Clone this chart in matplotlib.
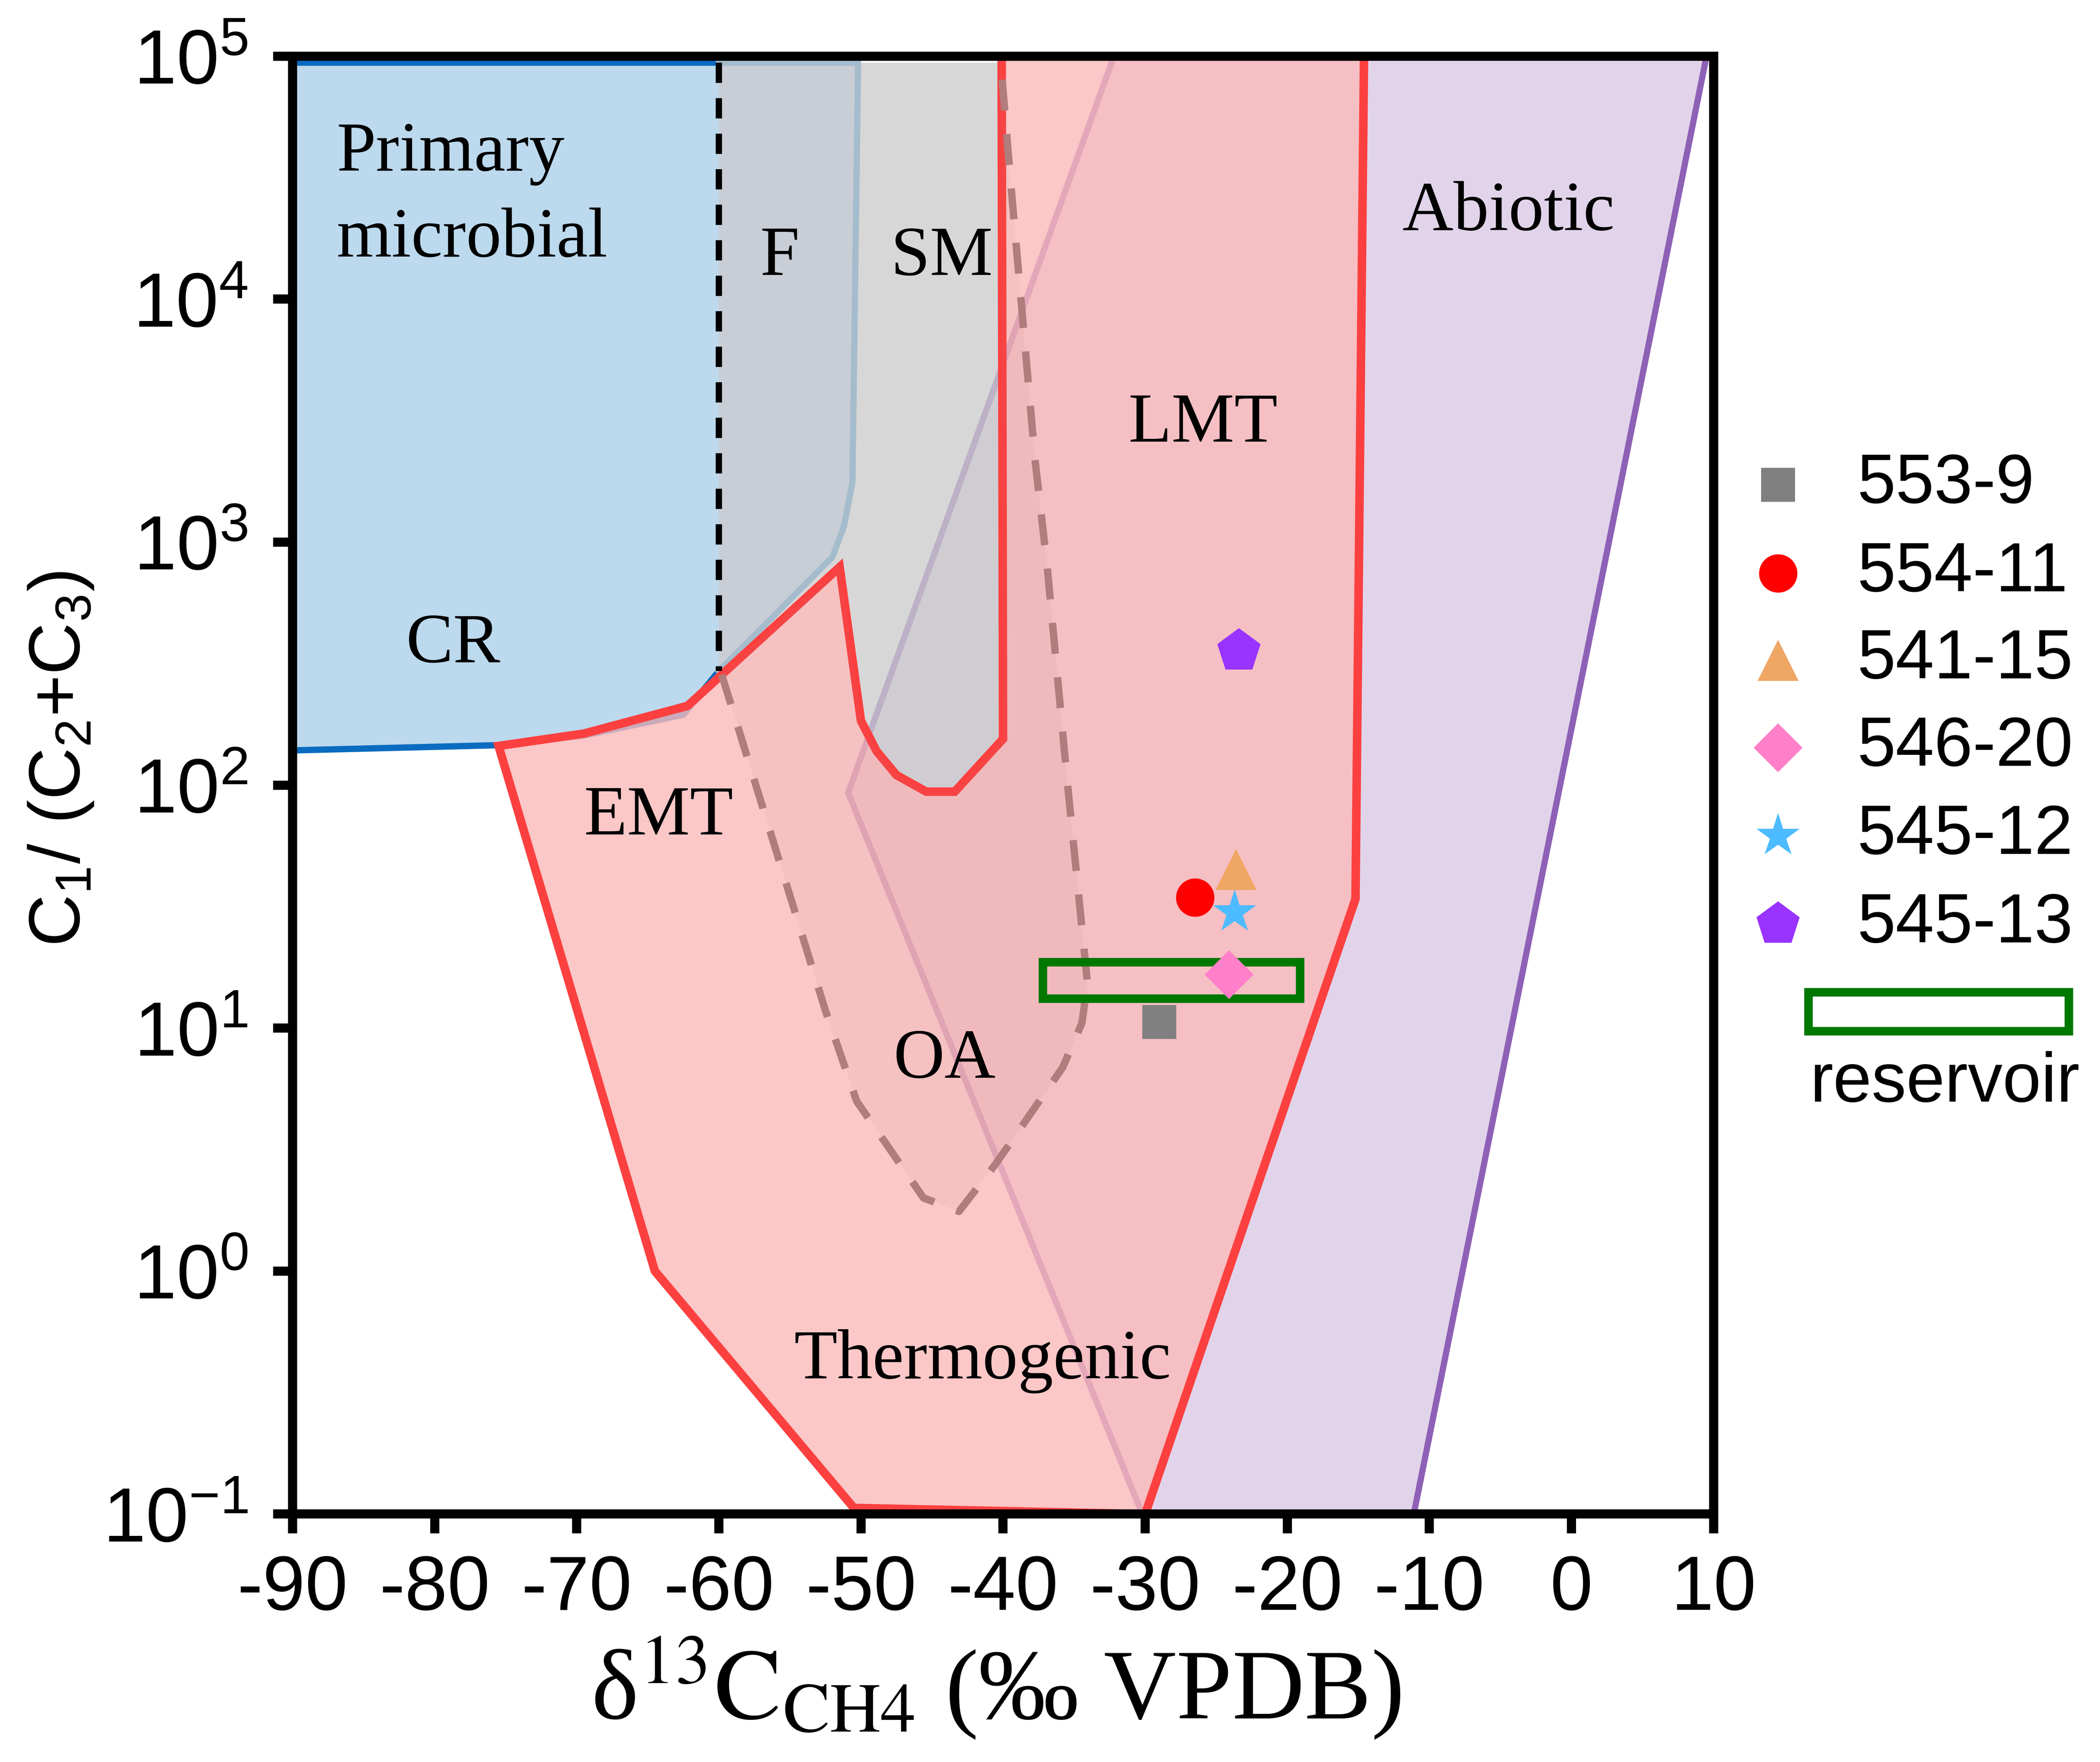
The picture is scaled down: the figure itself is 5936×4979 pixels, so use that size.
import matplotlib
matplotlib.use("Agg")
import matplotlib.pyplot as plt
from matplotlib.patches import Polygon, Rectangle

plt.rcParams["font.family"] = "Liberation Sans"
plt.rcParams["mathtext.fontset"] = "custom"
plt.rcParams["mathtext.rm"] = "Liberation Sans"
plt.rcParams["mathtext.it"] = "Liberation Sans:italic"
plt.rcParams["mathtext.bf"] = "Liberation Sans:bold"
plt.rcParams["axes.unicode_minus"] = False

SERIF = "Liberation Serif"

# amostras
amostras = ["553-9", "554-11", "541-15", "546-20", "545-12", "545-13"]
d13c = [-29.0, -26.5, -23.6, -24.1, -23.7, -23.4]
razao_c1 = [10.6, 34.5, 45.0, 16.6, 30.0, 356.0]
marcadores = ["s", "o", "^", "D", "*", "p"]
cores = ["#808080", "#ff0000", "#f0a664", "#ff80c8", "#4dbbff", "#9933ff"]
tamanhos = [23, 26, 28, 23.4, 31, 31]

# reservatorio
res_x = [-37.2, -19.1]
res_y = [13.2, 18.7]

# zonas (x = d13C, y = C1/(C2+C3))
abiotic_x = [-30.2, -50.9, -32.2, 9.5, -11.1]
abiotic_y = [0.1, 93, 1e5, 1e5, 0.1]

cr_x = [-90, -60, -60, -62.5, -69.5, -75.6, -90]
cr_y = [9.4e4, 9.4e4, 295, 195, 160, 146, 139]

f_x = [-60, -50.2, -50.6, -51.2, -52.0, -60]
f_y = [9.4e4, 9.4e4, 1760, 1160, 870, 295]

sm_x = [-60, -40.1, -40.0, -43.4, -45.4, -47.5, -48.9, -50.0, -51.5, -60]
sm_y = [9.4e4, 9.4e4, 155, 94, 94, 110, 138, 184, 790, 295]

termo_x = [-75.5, -69.5, -62.2, -51.5, -50.0, -48.9, -47.5, -45.4, -43.4,
           -40.0, -40.1, -14.6, -15.2, -30.0, -50.5, -64.5]
termo_y = [145, 163, 212, 790, 184, 138, 110, 94, 94,
           155, 1e5, 1e5, 34, 0.1, 0.106, 1.0]

oa_x = [-59.8, -58.5, -52.5, -50.3, -45.6, -43.1, -40.5, -35.8, -34.45,
        -34.06, -35.5, -36.9, -37.75, -39.5, -40.2]
oa_y = [285, 162, 11.8, 5.0, 2.0, 1.76, 2.77, 6.9, 10.5,
        15.3, 106, 800, 2180, 3.2e4, 1e5]

# fecho da area OA pela borda do SM
oa_fecho_x = [-40.0, -43.4, -45.4, -47.5, -48.9, -50.0, -51.5]
oa_fecho_y = [155, 94, 94, 110, 138, 184, 790]

# rotulos das zonas
rotulos = ["Primary", "microbial", "F", "SM", "CR", "EMT", "OA",
           "Thermogenic", "LMT", "Abiotic"]
rot_x = [-86.9, -86.9, -57.1, -47.9, -82.0, -69.5, -47.7, -54.7, -31.2, -11.9]
rot_y = [33900, 15000, 12600, 12600, 321, 62.7, 6.25, 0.363, 2594, 19280]

x_ticks = [-90, -80, -70, -60, -50, -40, -30, -20, -10, 0, 10]
y_ticks = [1e-1, 1e0, 1e1, 1e2, 1e3, 1e4, 1e5]
y_tick_labels = [r"$10^{-1}$", r"$10^{0}$", r"$10^{1}$", r"$10^{2}$",
                 r"$10^{3}$", r"$10^{4}$", r"$10^{5}$"]

fig = plt.figure(figsize=(5936 / 300, 4979 / 300), dpi=300)
ax = fig.add_axes([0.1393, 0.1407, 0.6767, 0.8274])
ax.set_yscale("log")
ax.set_xlim(-90, 10)
ax.set_ylim(1e-1, 1e5)

# abiotico
ax.add_patch(Polygon(list(zip(abiotic_x, abiotic_y)), closed=True,
                     facecolor="#e1d4ea", edgecolor="#8e60b6",
                     linewidth=4.2, zorder=1))

# microbiano primario (CR)
ax.add_patch(Polygon(list(zip(cr_x, cr_y)), closed=True,
                     facecolor="#bcd9ed", edgecolor="none", zorder=2))
ax.plot(cr_x[:2], cr_y[:2], color="#0a6cc0", lw=4.3, zorder=2.1)
ax.plot(cr_x[2:], cr_y[2:], color="#0a6cc0", lw=4.3, zorder=2.1)

# SM
ax.add_patch(Polygon(list(zip(sm_x, sm_y)), closed=True,
                     facecolor=(203 / 255, 203 / 255, 203 / 255, 0.77),
                     edgecolor="none", zorder=3))

# F
ax.add_patch(Polygon(list(zip(f_x, f_y)), closed=True,
                     facecolor="#c8cdd6", edgecolor="none", zorder=3.5))
ax.plot(f_x, f_y, color="#a5bccd", lw=4.2, zorder=3.6)

# termogenico
ax.add_patch(Polygon(list(zip(termo_x, termo_y)), closed=True,
                     facecolor=(251 / 255, 186 / 255, 186 / 255, 0.8),
                     edgecolor="#fc4040", linewidth=5.8, zorder=4))

# OA
ax.add_patch(Polygon(list(zip(oa_x + oa_fecho_x, oa_y + oa_fecho_y)),
                     closed=True, facecolor=(176 / 255, 124 / 255, 124 / 255, 0.07),
                     edgecolor="none", zorder=4.5))
ax.plot(oa_x, oa_y, color="#b07c7c", lw=5, linestyle=(0, (4.2, 3.2)), zorder=5)

# limite tracejado
ax.plot([-60, -60], [9.4e4, 295], color="black", lw=4.3,
        linestyle=(0, (3.2, 2.4)), zorder=5)

# reservatorio
ax.add_patch(Rectangle((res_x[0], res_y[0]), res_x[1] - res_x[0],
                       res_y[1] - res_y[0], facecolor="none",
                       edgecolor="#007800", linewidth=5.8, zorder=6))

# pontos
for i in range(len(amostras)):
    ax.plot(d13c[i], razao_c1[i], marker=marcadores[i], color=cores[i],
            markersize=tamanhos[i], markeredgewidth=0, linestyle="none",
            zorder=7)

# rotulos
for txt, x, y in zip(rotulos, rot_x, rot_y):
    ax.text(x, y, txt, family=SERIF, fontsize=48, ha="left",
            va="baseline", zorder=8)

# eixos
ax.set_xticks(x_ticks)
ax.set_xticklabels([str(v) for v in x_ticks])
ax.set_yticks(y_ticks)
ax.set_yticklabels(y_tick_labels)
ax.yaxis.set_minor_locator(plt.NullLocator())
ax.tick_params(axis="both", direction="out", length=13.2, width=6.2,
               labelsize=52)
ax.tick_params(axis="x", pad=14)
ax.tick_params(axis="y", pad=17)
for sp in ax.spines.values():
    sp.set_linewidth(6.2)
    sp.set_zorder(10)

ax.set_ylabel(r"C$_1$/ (C$_2$+C$_3$)", fontsize=49)
ax.yaxis.set_label_coords(-0.139, 0.518)

ax.set_xlabel(r"δ$^{13}\mathrm{C}_{\mathrm{CH4}}$ (‰ VPDB)", family=SERIF,
              fontsize=68, math_fontfamily="stix", va="top")
ax.xaxis.set_label_coords(0.495, -0.083)

# legenda
leg_y = [0.7059, 0.6452, 0.5855, 0.5257, 0.4651, 0.4044]
for i in range(len(amostras)):
    ax.plot(1.0453, leg_y[i], marker=marcadores[i], color=cores[i],
            markersize=tamanhos[i], markeredgewidth=0, linestyle="none",
            transform=ax.transAxes, clip_on=False)
    ax.text(1.101, leg_y[i], amostras[i], fontsize=47, ha="left",
            va="center", transform=ax.transAxes)

ax.add_patch(Rectangle((1.0667, 0.3313), 0.1832, 0.0265,
                       transform=ax.transAxes, facecolor="none",
                       edgecolor="#007800", linewidth=5.8, clip_on=False))
ax.text(1.068, 0.283, "reservoir", fontsize=47, ha="left",
        va="baseline", transform=ax.transAxes)

plt.savefig("out.png", dpi=300, facecolor="white")
